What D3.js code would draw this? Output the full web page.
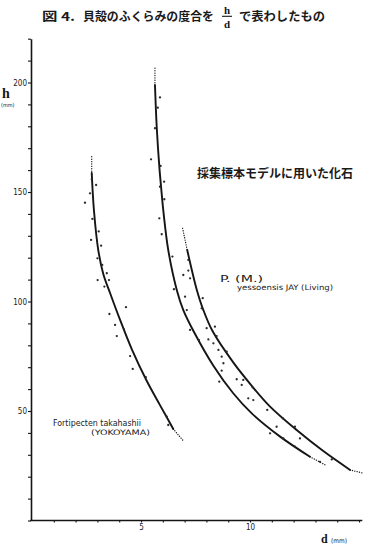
<!DOCTYPE html>
<html><head><meta charset="utf-8">
<script src="https://cdn.jsdelivr.net/npm/d3@7"></script>
<style>
body{margin:0;background:#fff}
svg{display:block}
.lat{font-family:"DejaVu Sans Condensed","Liberation Sans Narrow","DejaVu Sans",sans-serif;fill:#1a1a1a}
.jp{font-family:"Noto Sans CJK JP",sans-serif;font-weight:700;fill:#1a1a1a}
</style>
</head><body>
<svg id="c" width="367" height="546"></svg>
<script>
// ---------- data (d in mm, h in mm) ----------
// Fortipecten takahashii (YOKOYAMA)
const fortiCurveD = [2.74, 2.84, 3.04, 3.27, 3.58, 4.04, 4.59, 5.26, 5.87, 6.48];
const fortiCurveH = [158.7, 141.8, 123.5, 112.6, 103.9, 91.6, 77.9, 63.8, 52.7, 41.8];
const fortiTopD = [2.74, 2.74], fortiTopH = [166.1, 158.7];
const fortiEndD = [6.48, 6.94], fortiEndH = [41.8, 36.4];
const fortiPtsD = [2.74, 2.94, 2.66, 2.43, 2.77, 3.06, 2.71, 3.17, 3.00, 3.22, 3.43, 3.01, 3.53, 3.32, 4.31, 3.55, 3.81, 4.22, 3.89, 4.50, 4.62, 5.22, 6.18, 6.25];
const fortiPtsH = [155.8, 153.2, 149.4, 145.1, 137.7, 132.0, 128.1, 125.5, 119.7, 116.7, 112.9, 109.8, 109.8, 106.8, 97.4, 94.3, 89.3, 87.3, 84.2, 75.1, 69.2, 65.4, 47.4, 43.6];

// 採集標本モデルに用いた化石
const modelCurveD = [5.64, 5.72, 5.84, 5.92, 6.02, 6.25, 6.64, 6.94, 7.43, 8.32, 9.23, 10.08, 11.38, 12.75];
const modelCurveH = [198.9, 179.8, 161.6, 152.4, 141.8, 123.5, 105.3, 96.1, 86.1, 70.7, 58.1, 48.9, 38.3, 29.1];
const modelTopD = [5.64, 5.64], modelTopH = [206.5, 198.9];
const modelEndD = [12.75, 13.52], modelEndH = [29.1, 25.0];
const modelPtsD = [5.87, 5.77, 5.64, 5.46, 5.90, 6.06, 5.87, 6.07, 5.84, 5.95, 6.44, 6.51, 6.94, 7.02, 7.10, 7.25, 7.66, 8.09, 8.32, 8.59, 8.70, 8.78, 8.70, 9.62, 9.92, 10.15, 10.92, 11.53, 12.06, 13.21];
const modelPtsH = [193.2, 188.5, 179.1, 164.9, 161.9, 154.7, 152.4, 146.7, 138.0, 130.7, 120.5, 105.6, 112.1, 102.2, 96.1, 87.0, 82.4, 82.7, 80.9, 63.4, 68.4, 71.8, 74.8, 61.9, 55.8, 55.0, 39.8, 37.5, 33.7, 26.8];

// P. (M.) yessoensis JAY (Living)
const yessoCurveD = [7.12, 7.33, 7.56, 7.86, 8.28, 9.23, 10.08, 10.92, 12.14, 13.36, 14.59];
const yessoCurveH = [123.5, 114.4, 105.3, 96.1, 86.5, 72.2, 61.5, 52.0, 41.3, 31.7, 23.1];
const yessoTopD = [6.91, 7.12], yessoTopH = [133.4, 123.5];
const yessoEndD = [14.59, 15.20], yessoEndH = [23.1, 21.6];
const yessoPtsD = [7.17, 7.17, 7.25, 7.83, 7.78, 8.01, 8.39, 8.47, 8.55, 8.93, 9.39, 9.69, 10.12, 10.79, 11.50, 11.22, 12.06, 12.29, 13.75];
const yessoPtsH = [119.0, 114.1, 110.6, 101.5, 96.9, 87.8, 88.5, 84.2, 77.9, 77.1, 64.5, 64.2, 60.8, 50.5, 46.7, 42.8, 42.8, 37.5, 27.9];

const yTickValues = d3.range(0, 221, 10);
const yLabelValues = [50, 100, 150, 200];
const xTickValues = d3.range(1, 16, 1);
const xLabelValues = [5, 10];

// ---------- drawing ----------
const svg = d3.select("#c");
const x = d3.scaleLinear().domain([0, 15.15]).range([32, 362.3]);
const y = d3.scaleLinear().domain([0, 220]).range([520.5, 38.7]);
const ink = "#151515";

// axes
const yAxis = d3.axisLeft(y).tickValues(yTickValues).tickSize(3).tickSizeOuter(0).tickPadding(1)
  .tickFormat(d => yLabelValues.includes(d) ? d : "");
const gy = svg.append("g").attr("transform", `translate(${x(0) - 1},0)`).call(yAxis);
gy.select(".domain").attr("stroke", ink).attr("stroke-width", 1.6);
gy.selectAll(".tick line").attr("stroke", ink).attr("stroke-width", 1.1);
gy.selectAll(".tick text").attr("class", "lat").attr("font-size", 8).attr("fill", ink);

const xAxis = d3.axisBottom(x).tickValues(xTickValues).tickSize(2).tickSizeOuter(0).tickPadding(1.5)
  .tickFormat(d => xLabelValues.includes(d) ? d : "");
const gx = svg.append("g").attr("transform", `translate(0,${y(0)})`).call(xAxis);
gx.select(".domain").attr("stroke", ink).attr("stroke-width", 1.6).attr("d", `M${x(0)-1.8},0H${x.range()[1]}`);
gx.selectAll(".tick line").attr("stroke", ink).attr("stroke-width", 1.1);
gx.selectAll(".tick text").attr("class", "lat").attr("font-size", 8).attr("fill", ink);

// axis titles
svg.append("text").attr("x", 2).attr("y", 97.5).attr("font-family", "Liberation Serif, DejaVu Serif, serif")
  .attr("font-weight", 700).attr("font-size", 14).attr("fill", ink).text("h");
svg.append("text").attr("class", "lat").attr("x", 1).attr("y", 106.5).attr("font-size", 5.5).text("(mm)");
svg.append("text").attr("x", 321).attr("y", 543).attr("font-family", "Liberation Serif, DejaVu Serif, serif")
  .attr("font-weight", 700).attr("font-size", 12).attr("fill", ink).text("d");
svg.append("text").attr("class", "lat").attr("x", 331).attr("y", 543).attr("font-size", 6.5).text("(mm)");

// curves
const line = d3.line().x(p => x(p[0])).y(p => y(p[1])).curve(d3.curveCatmullRom.alpha(0.5));
function curve(ds, hs, dotted) {
  const pts = ds.map((d, i) => [d, hs[i]]);
  const p = svg.append("path").attr("d", line(pts)).attr("fill", "none").attr("stroke", ink);
  if (dotted) p.attr("stroke-width", 1.3).attr("stroke-linecap", "round").attr("stroke-dasharray", "0.1 2.3");
  else p.attr("stroke-width", 1.9).attr("stroke-linecap", "round");
}
function points(ds, hs) {
  svg.append("g").selectAll("circle").data(ds.map((d, i) => [d, hs[i]])).join("circle")
    .attr("cx", p => x(p[0])).attr("cy", p => y(p[1])).attr("r", 1.15).attr("fill", "#2a2a2a");
}
curve(fortiCurveD, fortiCurveH, false);
curve(fortiTopD, fortiTopH, true);
curve(fortiEndD, fortiEndH, true);
points(fortiPtsD, fortiPtsH);
curve(modelCurveD, modelCurveH, false);
curve(modelTopD, modelTopH, true);
curve(modelEndD, modelEndH, true);
points(modelPtsD, modelPtsH);
curve(yessoCurveD, yessoCurveH, false);
curve(yessoTopD, yessoTopH, true);
curve(yessoEndD, yessoEndH, true);
points(yessoPtsD, yessoPtsH);

// title
svg.append("text").attr("class", "jp").attr("x", 42).attr("y", 21).attr("font-size", 12)
  .attr("textLength", 33).attr("lengthAdjust", "spacingAndGlyphs").text("図 4.");
svg.append("text").attr("class", "jp").attr("x", 83).attr("y", 21).attr("font-size", 12)
  .attr("textLength", 131).attr("lengthAdjust", "spacingAndGlyphs").text("貝殻のふくらみの度合を");
svg.append("text").attr("x", 227).attr("y", 13.5).attr("text-anchor", "middle")
  .attr("font-family", "Liberation Serif, DejaVu Serif, serif").attr("font-weight", 700).attr("font-size", 11).attr("fill", ink).text("h");
svg.append("line").attr("x1", 222).attr("x2", 232).attr("y1", 16.3).attr("y2", 16.3).attr("stroke", ink).attr("stroke-width", 1.1);
svg.append("text").attr("x", 227).attr("y", 27.5).attr("text-anchor", "middle")
  .attr("font-family", "Liberation Serif, DejaVu Serif, serif").attr("font-weight", 700).attr("font-size", 11).attr("fill", ink).text("d");
svg.append("text").attr("class", "jp").attr("x", 239).attr("y", 21).attr("font-size", 12)
  .attr("textLength", 86).attr("lengthAdjust", "spacingAndGlyphs").text("で表わしたもの");

// series labels
svg.append("text").attr("class", "jp").attr("x", 197).attr("y", 178).attr("font-size", 12)
  .attr("textLength", 156).attr("lengthAdjust", "spacingAndGlyphs").text("採集標本モデルに用いた化石");
svg.append("text").attr("class", "lat").attr("x", 220).attr("y", 282).attr("font-size", 9.5)
  .attr("textLength", 43).attr("lengthAdjust", "spacingAndGlyphs").text("P. (M.)");
svg.append("text").attr("class", "lat").attr("x", 237).attr("y", 290).attr("font-size", 7.5)
  .attr("textLength", 96).attr("lengthAdjust", "spacingAndGlyphs").text("yessoensis JAY (Living)");
svg.append("text").attr("class", "lat").attr("x", 53).attr("y", 426).attr("font-size", 8)
  .attr("textLength", 88).attr("lengthAdjust", "spacingAndGlyphs").text("Fortipecten takahashii");
svg.append("text").attr("class", "lat").attr("x", 91).attr("y", 435).attr("font-size", 7.5)
  .attr("textLength", 59).attr("lengthAdjust", "spacingAndGlyphs").text("(YOKOYAMA)");
</script>
</body></html>
